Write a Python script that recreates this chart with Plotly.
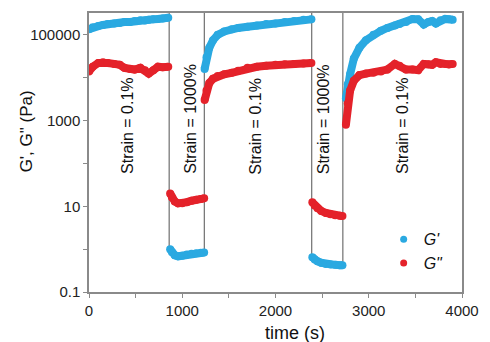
import plotly.graph_objects as go
import math

# ---------------- data ----------------
step_times = [860, 1237, 2388, 2722]

# segment 1: strain 0.1%
t1 = [0, 40, 100, 150, 200, 270, 330, 380, 440, 490, 550, 600, 640, 690, 740, 790, 850]
g1p = [1.35e5, 1.5e5, 1.6e5, 1.7e5, 1.8e5, 1.85e5, 1.9e5, 2.0e5, 2.0e5, 2.1e5, 2.2e5, 2.15e5, 2.25e5, 2.3e5, 2.35e5, 2.4e5, 2.5e5]
g1pp = [1.4e4, 1.8e4, 2.2e4, 2.3e4, 2.2e4, 2.1e4, 2.0e4, 1.7e4, 1.6e4, 1.55e4, 1.7e4, 1.5e4, 1.25e4, 1.5e4, 1.8e4, 1.75e4, 1.8e4]

# segment 2: strain 1000%
t2 = [870, 890, 920, 955, 1000, 1050, 1100, 1150, 1200, 1235]
g2p = [1.0, 0.85, 0.72, 0.68, 0.7, 0.75, 0.78, 0.8, 0.82, 0.83]
g2pp = [20, 16, 13, 11.7, 11.8, 12.5, 13.5, 14.2, 14.8, 15.3]

# segment 3: strain 0.1%
t3 = [1240, 1260, 1290, 1330, 1380, 1450, 1530, 1600, 1700, 1800, 1900, 2000, 2100, 2200, 2300, 2385]
g3p = [1.6e4, 3.0e4, 5.0e4, 7.5e4, 1.0e5, 1.2e5, 1.35e5, 1.45e5, 1.55e5, 1.65e5, 1.8e5, 1.85e5, 2.0e5, 2.1e5, 2.25e5, 2.3e5]
g3pp = [3.0e3, 5.0e3, 7.5e3, 9.5e3, 1.1e4, 1.2e4, 1.3e4, 1.45e4, 1.7e4, 1.8e4, 1.9e4, 2.0e4, 2.05e4, 2.1e4, 2.15e4, 2.2e4]

# segment 4: strain 1000%
t4 = [2395, 2420, 2450, 2490, 2540, 2590, 2640, 2690, 2718]
g4p = [0.65, 0.57, 0.52, 0.48, 0.45, 0.44, 0.43, 0.42, 0.42]
g4pp = [12.4, 10.5, 9.0, 7.8, 7.0, 6.5, 6.2, 6.0, 5.9]

# segment 5: strain 0.1%
t5 = [2755, 2775, 2800, 2840, 2900, 2970, 3050, 3130, 3200, 3280, 3330, 3400, 3470, 3530, 3590, 3640, 3680, 3720, 3770, 3820, 3860, 3900]
g5p = [3.3e3, 7e3, 1.2e4, 2.8e4, 5.0e4, 7.5e4, 1.0e5, 1.25e5, 1.45e5, 1.65e5, 1.8e5, 2.0e5, 2.35e5, 2.3e5, 1.75e5, 2.0e5, 2.1e5, 1.85e5, 2.2e5, 2.35e5, 2.3e5, 2.25e5]
g5pp = [800, 2500, 5000, 8500, 1.15e4, 1.25e4, 1.3e4, 1.4e4, 1.55e4, 2.1e4, 1.9e4, 1.55e4, 1.55e4, 1.5e4, 2.1e4, 2.05e4, 2.0e4, 2.3e4, 2.1e4, 2.1e4, 2.05e4, 2.1e4]

label_times = [410, 1090, 1790, 2510, 3360]
label_texts = ["Strain = 0.1%", "Strain = 1000%", "Strain = 0.1%", "Strain = 1000%", "Strain = 0.1%"]

x_tickvals = [0, 500, 1000, 1500, 2000, 2500, 3000, 3500, 4000]
x_ticktext = ["0", "", "1000", "", "2000", "", "3000", "", "4000"]
y_tickvals = [0.1, 1, 10, 100, 1000, 10000, 100000]
y_ticktext = ["0.1", "", "10", "", "1000", "", "100000"]

BLUE = "#2aa9e1"
RED = "#e4222a"
FONT = "Arial, Liberation Sans, sans-serif"
YTOP_LOG = 5.51

segs_t = [t1, t2, t3, t4, t5]
segs_p = [g1p, g2p, g3p, g4p, g5p]
segs_pp = [g1pp, g2pp, g3pp, g4pp, g5pp]


def join(segs):
    out = []
    for i, s in enumerate(segs):
        if i:
            out.append(None)
        out.extend(s)
    return out


fig = go.Figure()

# vertical step lines from the top of the axis down to G' at the step
vx, vy = [], []
for i, ts in enumerate(step_times):
    bottom = min(segs_p[i][-1], segs_p[i + 1][0])
    vx += [ts, ts, None]
    vy += [10 ** YTOP_LOG, bottom, None]
fig.add_trace(go.Scatter(x=vx, y=vy, mode="lines", line=dict(color="#7a7a7a", width=1.3),
                         showlegend=False, hoverinfo="skip"))

for vals, col in [(segs_p, BLUE), (segs_pp, RED)]:
    fig.add_trace(go.Scatter(x=join(segs_t), y=join(vals), mode="lines+markers",
                             line=dict(color=col, width=8),
                             marker=dict(color=col, size=8),
                             showlegend=False, connectgaps=False))

# legend entries
fig.add_trace(go.Scatter(x=[None], y=[None], mode="markers", marker=dict(color=BLUE, size=7),
                         name="<i>G'</i>"))
fig.add_trace(go.Scatter(x=[None], y=[None], mode="markers", marker=dict(color=RED, size=7),
                         name="<i>G\"</i>"))

for lt, txt in zip(label_times, label_texts):
    fig.add_annotation(x=lt, xref="x", y=0.415, yref="paper", text=txt, textangle=-90,
                       showarrow=False, xanchor="center", yanchor="bottom",
                       font=dict(family=FONT, size=16, color="#111"))

fig.add_annotation(x=-0.168, xref="paper", y=0.577, yref="paper", text="G', G\" (Pa)",
                   textangle=-90, showarrow=False, xanchor="center", yanchor="middle",
                   font=dict(family=FONT, size=17, color="#111"))
fig.add_annotation(x=0.552, xref="paper", y=-0.146, yref="paper", text="time (s)",
                   showarrow=False, xanchor="center", yanchor="middle",
                   font=dict(family=FONT, size=18, color="#111"))

axis_common = dict(showline=True, linecolor="#8a8a8a", linewidth=1.5, mirror=True,
                   ticks="outside", ticklen=4, tickcolor="#8a8a8a", tickwidth=1.2,
                   showgrid=False, zeroline=False,
                   tickfont=dict(family=FONT, size=15, color="#222"))

fig.update_xaxes(range=[0, 4000], tickmode="array", tickvals=x_tickvals, ticktext=x_ticktext,
                 **axis_common)
fig.update_yaxes(type="log", range=[-1, YTOP_LOG], tickmode="array", tickvals=y_tickvals,
                 ticktext=y_ticktext, **axis_common)

fig.update_layout(
    width=490, height=342,
    margin=dict(l=89, r=19, t=11, b=50),
    plot_bgcolor="white", paper_bgcolor="white",
    showlegend=True,
    legend=dict(x=0.79, y=0.25, xanchor="left", yanchor="top",
                font=dict(family=FONT, size=16, color="#111"),
                bgcolor="rgba(0,0,0,0)", tracegroupgap=0),
    font=dict(family=FONT),
)

fig.write_html("out.html")
